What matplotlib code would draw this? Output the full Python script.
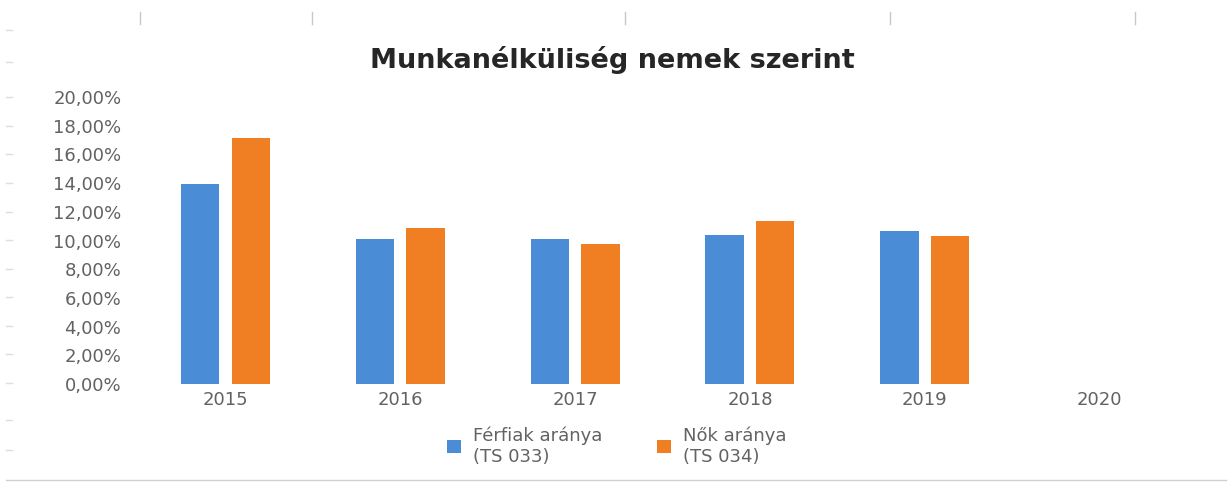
import matplotlib
matplotlib.use("Agg")
import matplotlib.pyplot as plt
import numpy as np
from matplotlib.ticker import FuncFormatter

years = ["2015", "2016", "2017", "2018", "2019", "2020"]
ferfiak = [13.94, 10.10, 10.10, 10.38, 10.66, np.nan]
nok = [17.14, 10.87, 9.76, 11.36, 10.31, np.nan]
series_labels = ["Férfiak aránya\n(TS 033)", "Nők aránya\n(TS 034)"]
title = "Munkanélküliség nemek szerint"

blue = "#4A8CD6"
orange = "#F07F24"
grey = "#626262"

fig = plt.figure(figsize=(12.32, 4.86), dpi=100)
ax = fig.add_axes([138/1232, 1 - 384/486, (1187-138)/1232, (384-97)/486])

x = np.arange(len(years))
w = 0.22
off = 0.145
ax.bar(x - off, ferfiak, width=w, color=blue, label=series_labels[0])
ax.bar(x + off, nok, width=w, color=orange, label=series_labels[1])

ax.set_xlim(-0.5, len(years) - 0.5)
ax.set_ylim(0, 20)
ax.set_yticks(np.arange(0, 20.01, 2))
ax.yaxis.set_major_formatter(FuncFormatter(lambda v, p: f"{v:.2f}".replace(".", ",") + "%"))
ax.set_xticks(x)
ax.set_xticklabels(years)
for s in ax.spines.values():
    s.set_visible(False)
ax.tick_params(axis="both", length=0, colors=grey, labelsize=13)
ax.tick_params(axis="y", pad=12)
ax.tick_params(axis="x", pad=5)

fig.text(612/1232, 1 - 60/486, title, ha="center", va="center",
         fontsize=19.5, fontweight="bold", color="#262626", family="DejaVu Sans")

leg = fig.legend(loc="center", bbox_to_anchor=(617/1232, 1 - 446/486), ncol=2,
                 frameon=False, fontsize=13, handlelength=0.75, handleheight=0.75,
                 columnspacing=3.0, handletextpad=0.7, labelcolor=grey)

# faint scan decorations
for xp in [140, 312, 625, 890, 1135]:
    fig.add_artist(plt.Line2D([xp/1232, xp/1232], [1 - 12/486, 1 - 24/486], color="#c8c8c8", lw=1))
fig.add_artist(plt.Line2D([0.005, 0.995], [1 - 480/486, 1 - 480/486], color="#d0d0d0", lw=1))
for yp in [30, 62, 97, 126, 154, 183, 212, 240, 269, 297, 326, 354, 383, 420, 450]:
    fig.add_artist(plt.Line2D([6/1232, 12/1232], [1 - yp/486, 1 - yp/486], color="#dddddd", lw=1))

fig.savefig("out.png", dpi=100, facecolor="white")
